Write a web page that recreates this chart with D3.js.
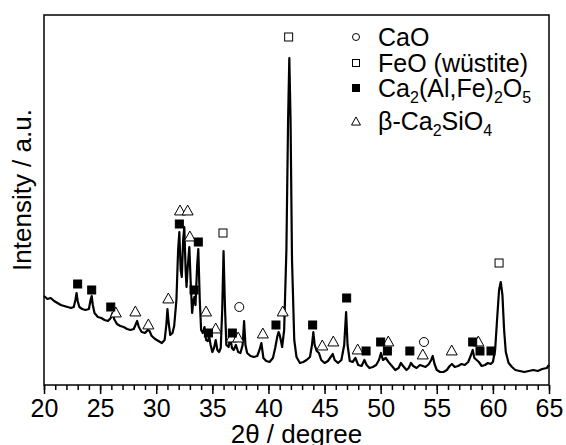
<!DOCTYPE html>
<html>
<head>
<meta charset="utf-8">
<script src="https://cdn.jsdelivr.net/npm/d3@7"></script>
<style>
  body { margin: 0; background: #fff; }
  text { font-family: "Liberation Sans", Arial, sans-serif; fill: #000; }
</style>
</head>
<body>
<div id="chart"></div>
<script>
// XRD pattern (2theta in degrees, intensity in arbitrary units)
const twoTheta = [
  20.0, 20.3, 20.6, 20.9, 21.2, 21.5, 21.8, 22.1, 22.4, 22.65, 22.8, 22.9, 23.0, 23.15, 23.4, 23.7,
  24.0, 24.15, 24.25, 24.35, 24.5, 24.8, 25.1, 25.4, 25.7, 25.95, 26.1, 26.25, 26.5, 26.8, 27.1, 27.4,
  27.7, 28.0, 28.15, 28.3, 28.45, 28.7, 29.0, 29.25, 29.4, 29.6, 29.9, 30.2, 30.5, 30.75, 30.9, 31.0,
  31.1, 31.25, 31.45, 31.6, 31.8, 31.95, 32.06, 32.18, 32.28, 32.4, 32.5, 32.62, 32.7, 32.82, 32.95, 33.08,
  33.2, 33.32, 33.4, 33.5, 33.65, 33.75, 33.88, 34.0, 34.15, 34.3, 34.45, 34.6, 34.72, 34.85, 35.0, 35.15,
  35.3, 35.45, 35.6, 35.75, 35.88, 36.0, 36.12, 36.25, 36.45, 36.6, 36.75, 36.9, 37.1, 37.3, 37.5, 37.7,
  37.83, 37.95, 38.1, 38.4, 38.7, 39.0, 39.2, 39.37, 39.55, 39.8, 40.1, 40.4, 40.6, 40.8, 40.9, 41.0,
  41.1, 41.22, 41.4, 41.6, 41.75, 41.86, 41.97, 42.1, 42.3, 42.5, 42.8, 43.1, 43.4, 43.7, 43.88, 44.0,
  44.12, 44.3, 44.5, 44.7, 45.0, 45.3, 45.55, 45.73, 45.9, 46.2, 46.5, 46.75, 46.92, 47.05, 47.25, 47.5,
  47.75, 48.0, 48.3, 48.55, 48.75, 49.0, 49.3, 49.6, 49.85, 50.03, 50.2, 50.45, 50.7, 51.0, 51.3, 51.6,
  51.8, 52.0, 52.3, 52.5, 52.7, 52.9, 53.2, 53.5, 53.75, 54.0, 54.3, 54.5, 54.64, 54.8, 55.0, 55.3,
  55.6, 55.9, 56.15, 56.35, 56.6, 56.9, 57.2, 57.5, 57.8, 58.05, 58.2, 58.35, 58.55, 58.75, 59.0, 59.3,
  59.55, 59.8, 60.0, 60.2, 60.4, 60.55, 60.7, 60.85, 61.0, 61.15, 61.4, 61.7, 62.0, 62.4, 62.8, 63.2,
  63.6, 64.0, 64.4, 64.8, 65.0
];
const intensity = [
  89, 86, 87, 84, 82, 80, 79, 78, 77, 78, 85, 92, 84, 78, 76, 75,
  76, 85, 89, 80, 72, 68, 67, 65, 64, 67, 72, 66, 61, 59, 58, 56,
  55, 56, 60, 64, 58, 53, 52, 55, 54, 49, 46, 44, 42, 45, 60, 76,
  63, 50, 52, 59, 85, 135, 153, 115, 108, 145, 158, 115, 98, 120, 138, 100,
  72, 85, 88, 80, 120, 136, 85, 55, 52, 58, 45, 44, 48, 40, 33, 37,
  45, 35, 33, 37, 75, 134, 80, 40, 38, 47, 37, 35, 40, 33, 32, 40,
  64, 40, 32, 29, 28, 29, 35, 42, 27, 24, 23, 27, 37, 49, 53, 50,
  45, 38, 55, 135, 265, 327, 265, 125, 45, 28, 22, 23, 25, 28, 40, 53,
  40, 34, 32, 25, 22, 24, 28, 31, 25, 22, 25, 40, 73, 40, 24, 23,
  27, 20, 19, 25, 20, 17, 18, 20, 25, 32, 25, 27, 23, 19, 15, 17,
  22, 19, 15, 17, 22, 19, 17, 20, 19, 18, 21, 25, 29, 21, 15, 13,
  13, 15, 19, 21, 18, 19, 21, 20, 23, 30, 35, 27, 25, 23, 19, 20,
  22, 21, 23, 35, 70, 95, 103, 90, 55, 33, 22, 18, 15, 14, 13, 14,
  15, 14, 16, 17, 20
];

// phase markers: [2theta, intensity level of the symbol]
const caoPeaks = [[37.4, 78], [53.86, 43]];
const feoPeaks = [[41.8, 348], [35.95, 152], [60.55, 122]];
const brownmilleritePeaks = [
  [23.0, 101], [24.25, 95], [25.95, 78], [32.06, 161], [33.75, 143], [33.37, 95], [34.65, 52],
  [36.78, 52], [40.67, 60], [43.94, 60], [46.97, 87], [48.7, 34], [50.0, 43], [50.6, 34],
  [52.6, 34], [58.2, 43], [58.85, 34], [59.83, 34]
];
const belitePeaks = [
  [26.4, 73], [28.14, 74], [29.3, 61], [31.08, 87], [32.12, 175], [32.8, 175], [33.0, 149],
  [34.44, 74], [35.3, 57], [36.72, 48], [37.3, 48], [39.5, 52], [41.27, 74], [44.8, 40],
  [45.78, 44], [47.95, 36], [50.68, 44], [53.75, 31], [56.33, 35], [58.7, 44]
];

const xTicks = [20, 25, 30, 35, 40, 45, 50, 55, 60, 65];
const legendLabels = ['CaO', 'FeO (wüstite)', 'Ca2(Al,Fe)2O5', 'β-Ca2SiO4'];

const width = 566, height = 445;
const margin = {top: 15, right: 17, bottom: 60, left: 44};

const svg = d3.select('#chart').append('svg')
  .attr('width', width)
  .attr('height', height);

const x = d3.scaleLinear().domain([20, 65]).range([margin.left, width - margin.right]);
const y = d3.scaleLinear().domain([0, 370]).range([height - margin.bottom, margin.top]);

// minor ticks every degree, major every 5
svg.append('g')
  .attr('transform', `translate(0,${height - margin.bottom})`)
  .call(d3.axisBottom(x).tickValues(d3.range(20, 66, 1)).tickSize(5).tickFormat(''))
  .call(g => g.select('.domain').remove())
  .call(g => g.selectAll('line').attr('stroke-width', 1.5));

const xAxis = svg.append('g')
  .attr('transform', `translate(0,${height - margin.bottom})`)
  .call(d3.axisBottom(x).tickValues(xTicks).tickSize(9).tickPadding(5).tickFormat(d3.format('d')));
xAxis.select('.domain').remove();
xAxis.selectAll('line').attr('stroke-width', 1.5);
xAxis.selectAll('text')
  .attr('font-size', 25)
  .attr('font-family', '"Liberation Sans", Arial, sans-serif')
  .attr('fill', '#000');

// frame
svg.append('rect')
  .attr('x', margin.left)
  .attr('y', margin.top)
  .attr('width', width - margin.left - margin.right)
  .attr('height', height - margin.top - margin.bottom)
  .attr('fill', 'none')
  .attr('stroke', '#000')
  .attr('stroke-width', 1.5);

// pattern
const points = twoTheta.map((t, i) => [t, intensity[i]]);
svg.append('path')
  .datum(points)
  .attr('fill', 'none')
  .attr('stroke', '#000')
  .attr('stroke-width', 2.2)
  .attr('stroke-linejoin', 'round')
  .attr('d', d3.line().x(d => x(d[0])).y(d => y(d[1])));

// marker shapes
const drawCircle = (g, cx, cy, r) => g.append('circle')
  .attr('cx', cx).attr('cy', cy).attr('r', r)
  .attr('fill', '#fff').attr('stroke', '#000').attr('stroke-width', 1);
const drawSquare = (g, cx, cy, s, filled) => g.append('rect')
  .attr('x', cx - s / 2).attr('y', cy - s / 2).attr('width', s).attr('height', s)
  .attr('fill', filled ? '#000' : '#fff').attr('stroke', '#000').attr('stroke-width', 1);
const drawTriangle = (g, cx, cy, s) => g.append('path')
  .attr('d', `M${cx},${cy - s * 0.45}L${cx + s / 2},${cy + s * 0.45}L${cx - s / 2},${cy + s * 0.45}Z`)
  .attr('fill', '#fff').attr('stroke', '#000').attr('stroke-width', 1);

const markers = svg.append('g');
belitePeaks.forEach(d => drawTriangle(markers, x(d[0]), y(d[1]), 11));
brownmilleritePeaks.forEach(d => drawSquare(markers, x(d[0]), y(d[1]), 8, true));
feoPeaks.forEach(d => drawSquare(markers, x(d[0]), y(d[1]), 8, false));
caoPeaks.forEach(d => drawCircle(markers, x(d[0]), y(d[1]), 4.5));

// legend
const legend = svg.append('g').attr('transform', 'translate(356,0)');
const rowY = [37, 63, 88, 121];
drawCircle(legend, 0, rowY[0], 3.5);
drawSquare(legend, 0, rowY[1], 7, false);
drawSquare(legend, 0, rowY[2], 7, true);
drawTriangle(legend, 0, rowY[3], 9);

const addLabel = (parts, yy) => {
  const t = legend.append('text').attr('x', 22).attr('y', yy + 9).attr('font-size', 25);
  parts.forEach(p => {
    const s = t.append('tspan').text(p[0]);
    if (p[1]) s.attr('font-size', 16).attr('dy', 6);
    else if (p[2]) s.attr('dy', -6);
  });
};
addLabel([[legendLabels[0]]], rowY[0]);
addLabel([[legendLabels[1]]], rowY[1]);
addLabel([['Ca'], ['2', true], ['(Al,Fe)', false, true], ['2', true], ['O', false, true], ['5', true]], rowY[2]);
addLabel([['β-Ca'], ['2', true], ['SiO', false, true], ['4', true]], rowY[3]);

// axis titles
svg.append('text')
  .attr('x', (margin.left + width - margin.right) / 2)
  .attr('y', 443)
  .attr('text-anchor', 'middle')
  .attr('font-size', 26)
  .text('2θ / degree');

svg.append('text')
  .attr('transform', 'translate(31,190) rotate(-90)')
  .attr('text-anchor', 'middle')
  .attr('font-size', 26)
  .text('Intensity / a.u.');
</script>
</body>
</html>
